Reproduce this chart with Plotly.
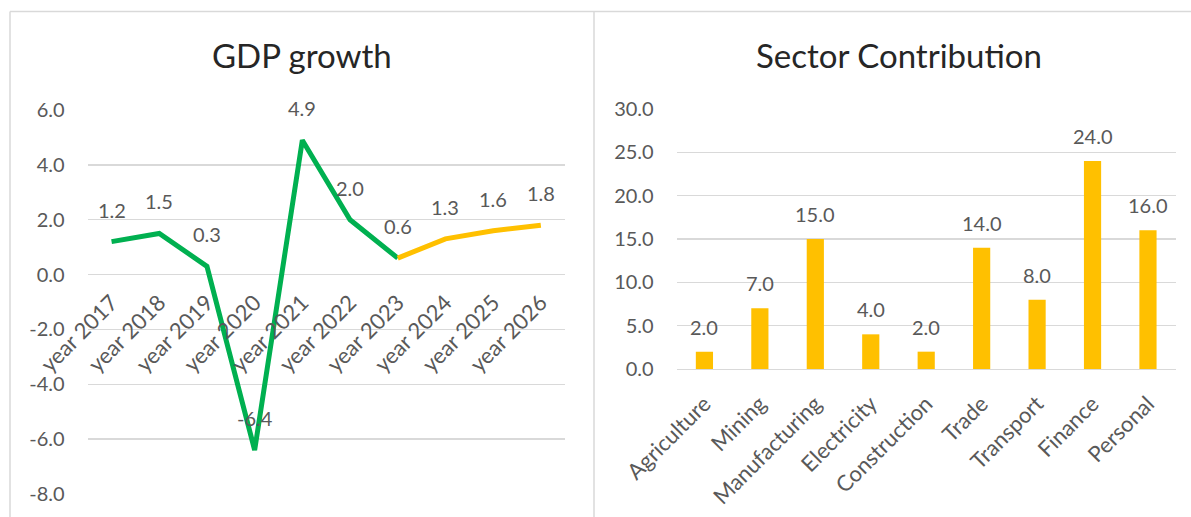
import plotly.graph_objects as go

# ---------------- data ----------------
years = ["year 2017", "year 2018", "year 2019", "year 2020", "year 2021",
         "year 2022", "year 2023", "year 2024", "year 2025", "year 2026"]
gdp_values = [1.2, 1.5, 0.3, -6.4, 4.9, 2.0, 0.6, 1.3, 1.6, 1.8]
actual_years = years[:7]
actual_values = gdp_values[:7]
forecast_years = years[6:]
forecast_values = gdp_values[6:]

sectors = ["Agriculture", "Mining", "Manufacturing", "Electricity", "Construction",
           "Trade", "Transport", "Finance", "Personal"]
sector_values = [2.0, 7.0, 15.0, 4.0, 2.0, 14.0, 8.0, 24.0, 16.0]

gdp_ticks = [-8, -6, -4, -2, 0, 2, 4, 6]
sector_ticks = [0, 5, 10, 15, 20, 25, 30]

# ---------------- style ----------------
W, H = 1191, 517
FONT = "Lato, Carlito, Calibri, sans-serif"
GRAY = "#595959"
GRID = "#D9D9D9"
GREEN = "#00B050"
GOLD = "#FFC000"
FS = 20
FS_CAT = 22


def px_x(p):
    return p / W


def px_y(p):
    return 1 - p / H


# left plot area (pixels): x 87.7..564.7, y 110 (6) .. 494 (-8)
L_x = [px_x(87.7), px_x(564.7)]
L_y = [px_y(494), px_y(110)]
# right plot area: x 676.7..1175.7, y 109 (30) .. 369 (0)
R_x = [px_x(676.7), px_x(1175.7)]
R_y = [px_y(369), px_y(109)]

ymin, ymax = gdp_ticks[0], gdp_ticks[-1]
zero_pos = L_y[0] + (0 - ymin) / (ymax - ymin) * (L_y[1] - L_y[0])

fig = go.Figure()

fig.add_trace(go.Scatter(x=actual_years, y=actual_values, mode="lines",
                         line=dict(color=GREEN, width=5), xaxis="x", yaxis="y",
                         hoverinfo="skip", showlegend=False))
fig.add_trace(go.Scatter(x=forecast_years, y=forecast_values, mode="lines",
                         line=dict(color=GOLD, width=5), xaxis="x", yaxis="y",
                         hoverinfo="skip", showlegend=False))
fig.add_trace(go.Bar(x=sectors, y=sector_values, marker=dict(color=GOLD, line=dict(width=0)),
                     xaxis="x2", yaxis="y2", hoverinfo="skip", showlegend=False))

annotations = []
for cat, v in zip(years, gdp_values):
    annotations.append(dict(x=cat, y=v, xref="x", yref="y", text=f"{v:.1f}",
                            showarrow=False, yshift=32, yanchor="middle",
                            font=dict(family=FONT, size=FS, color=GRAY)))
for cat, v in zip(sectors, sector_values):
    annotations.append(dict(x=cat, y=v, xref="x2", yref="y2", text=f"{v:.1f}",
                            showarrow=False, yshift=25, yanchor="middle",
                            font=dict(family=FONT, size=FS, color=GRAY)))

# titles
annotations.append(dict(x=px_x(302), y=px_y(55), xref="paper", yref="paper",
                        text="GDP growth", showarrow=False, xanchor="center", yanchor="middle",
                        font=dict(family=FONT, size=33, color="#262626")))
annotations.append(dict(x=px_x(899), y=px_y(55), xref="paper", yref="paper",
                        text="Sector Contribution", showarrow=False, xanchor="center", yanchor="middle",
                        font=dict(family=FONT, size=33, color="#262626")))

shapes = [
    dict(type="line", xref="paper", yref="paper", x0=px_x(10), x1=1, y0=px_y(11.5), y1=px_y(11.5),
         line=dict(color=GRID, width=1.5)),
    dict(type="line", xref="paper", yref="paper", x0=px_x(10), x1=px_x(10), y0=px_y(11.5), y1=0,
         line=dict(color=GRID, width=1.5)),
    dict(type="line", xref="paper", yref="paper", x0=px_x(594), x1=px_x(594), y0=px_y(11.5), y1=0,
         line=dict(color=GRID, width=1.5)),
]

tickfont = dict(family=FONT, size=FS, color=GRAY)
catfont = dict(family=FONT, size=FS_CAT, color=GRAY)

fig.update_layout(
    template="none",
    width=W, height=H,
    margin=dict(l=0, r=0, t=0, b=0, pad=0, autoexpand=False),
    paper_bgcolor="white", plot_bgcolor="rgba(0,0,0,0)",
    bargap=0.69,
    annotations=annotations,
    shapes=shapes,
    xaxis=dict(domain=L_x, anchor="free", position=zero_pos, type="category",
               categoryorder="array", categoryarray=years, automargin=False,
               range=[-0.5, len(years) - 0.5],
               showgrid=False, showline=False, zeroline=False,
               tickangle=-45, tickfont=catfont, ticks="", ticklabelstandoff=10,
               fixedrange=True),
    yaxis=dict(domain=L_y, anchor="x", range=[ymin, ymax], tickvals=gdp_ticks,
               ticktext=[f"{t:.1f}" for t in gdp_ticks], automargin=False,
               showgrid=True, gridcolor=GRID, gridwidth=1.3,
               zeroline=True, zerolinecolor=GRID, zerolinewidth=1.3,
               showline=False, tickfont=tickfont, ticks="", ticklabelstandoff=22),
    xaxis2=dict(domain=R_x, anchor="y2", type="category", automargin=False,
                categoryorder="array", categoryarray=sectors,
                range=[-0.5, len(sectors) - 0.5],
                showgrid=False, showline=True, linecolor=GRID, linewidth=1.3,
                zeroline=False, tickangle=-45, tickfont=catfont, ticks="",
                ticklabelstandoff=12),
    yaxis2=dict(domain=R_y, anchor="x2", range=[sector_ticks[0], sector_ticks[-1]],
                tickvals=sector_ticks, ticktext=[f"{t:.1f}" for t in sector_ticks],
                automargin=False, showgrid=True, gridcolor=GRID, gridwidth=1.3,
                zeroline=False, showline=False, tickfont=tickfont, ticks="",
                ticklabelstandoff=22),
)

fig.write_html("out.html", config={"displayModeBar": False, "staticPlot": True},
               post_script="document.body.style.margin='0';document.body.style.overflow='hidden';")
